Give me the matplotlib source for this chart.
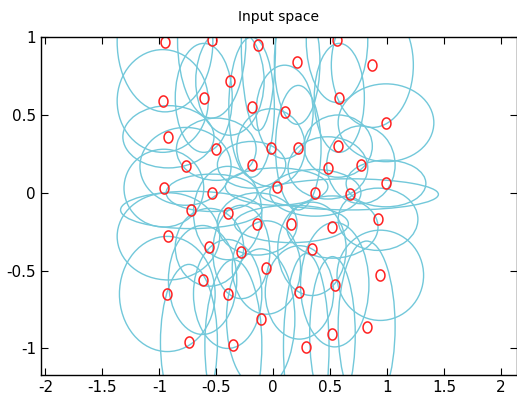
import numpy as np
import matplotlib
matplotlib.use("Agg")
import matplotlib.pyplot as plt
from matplotlib.patches import Ellipse
from matplotlib.path import Path

plt.rcParams['font.family'] = ['DejaVu Sans']
plt.rcParams['axes.unicode_minus'] = False

# data points (red circles)
px = [-0.95, -0.54, -0.13, 0.56, 0.21, 0.87, -0.38, -0.97, -0.61, -0.19,
      0.58, 0.10, 0.99, -0.92, -0.50, -0.02, 0.22, 0.57, -0.77, -0.19,
      0.48, 0.77, 0.99, -0.96, -0.54, 0.03, 0.37, 0.67, -0.72, -0.40,
      -0.14, 0.16, 0.52, 0.92, -0.92, -0.56, -0.28, 0.34, -0.06, -0.62,
      0.94, -0.93, -0.40, 0.23, 0.54, -0.11, 0.82, 0.52, -0.74, -0.35, 0.29]
py = [0.97, 0.98, 0.95, 0.98, 0.84, 0.82, 0.72, 0.59, 0.61, 0.55,
      0.61, 0.52, 0.45, 0.36, 0.28, 0.29, 0.29, 0.30, 0.17, 0.18,
      0.16, 0.18, 0.06, 0.03, 0.00, 0.04, 0.00, -0.01, -0.11, -0.13,
      -0.20, -0.20, -0.22, -0.17, -0.28, -0.35, -0.38, -0.36, -0.48, -0.56,
      -0.53, -0.65, -0.65, -0.64, -0.59, -0.81, -0.86, -0.91, -0.96, -0.98, -0.99]

# receptive field half-widths (x) and half-heights (y), one per point
rx = [0.42, 0.30, 0.15, 0.27, 0.20, 0.36, 0.30, 0.40, 0.25, 0.20,
      0.22, 0.25, 0.42, 0.40, 0.35, 0.30, 0.20, 0.30, 0.40, 0.30,
      0.35, 0.30, 0.35, 0.35, 0.40, 0.45, 0.40, 0.78, 0.62, 0.30,
      0.35, 0.50, 0.40, 0.35, 0.45, 0.30, 0.25, 0.30, 0.30, 0.30,
      0.38, 0.42, 0.30, 0.30, 0.30, 0.30, 0.25, 0.20, 0.25, 0.25, 0.20]
ry = [0.45, 0.50, 0.55, 0.40, 0.40, 0.40, 0.35, 0.33, 0.35, 0.45,
      0.35, 0.30, 0.25, 0.20, 0.20, 0.25, 0.40, 0.20, 0.25, 0.15,
      0.20, 0.25, 0.15, 0.25, 0.12, 0.12, 0.15, 0.10, 0.12, 0.30,
      0.20, 0.12, 0.20, 0.20, 0.28, 0.25, 0.30, 0.30, 0.30, 0.35,
      0.29, 0.37, 0.35, 0.30, 0.40, 0.45, 0.55, 0.50, 0.50, 0.55, 0.60]

xticks = [-2, -1.5, -1, -0.5, 0, 0.5, 1, 1.5, 2]
xticklabels = ["-2", "-1.5", "-1", "-0.5", "0", "0.5", "1", "1.5", "2"]
yticks = [-1, -0.5, 0, 0.5, 1]
yticklabels = ["-1", "-0.5", "0", "0.5", "1"]

fig = plt.figure(figsize=(5.17, 4.04), dpi=100)
ax = fig.add_axes([0.079, 0.072, 0.921, 0.836])

for x, y, a, b in zip(px, py, rx, ry):
    ax.add_patch(Ellipse((x, y), 2 * a, 2 * b, fill=False,
                         edgecolor='#72c8da', linewidth=1.0))

# slightly tall circle marker
t = np.linspace(0, 2 * np.pi, 40)
oval = Path(np.column_stack([0.8 * np.cos(t), np.sin(t)]), closed=True)
ax.plot(px, py, linestyle='none', marker=oval, markersize=8,
        markerfacecolor='none', markeredgecolor='#ff2020', markeredgewidth=1.1)

ax.set_xlim(-2.04, 2.14)
ax.set_ylim(-1.17, 1.0)
ax.set_xticks(xticks)
ax.set_xticklabels(xticklabels)
ax.set_yticks(yticks)
ax.set_yticklabels(yticklabels)
ax.tick_params(direction='in', top=True, right=True, labelsize=11, length=5)
for s in ax.spines.values():
    s.set_linewidth(1.0)
ax.set_title("Input space", fontsize=10, pad=12)

fig.savefig("out.png", dpi=100)
